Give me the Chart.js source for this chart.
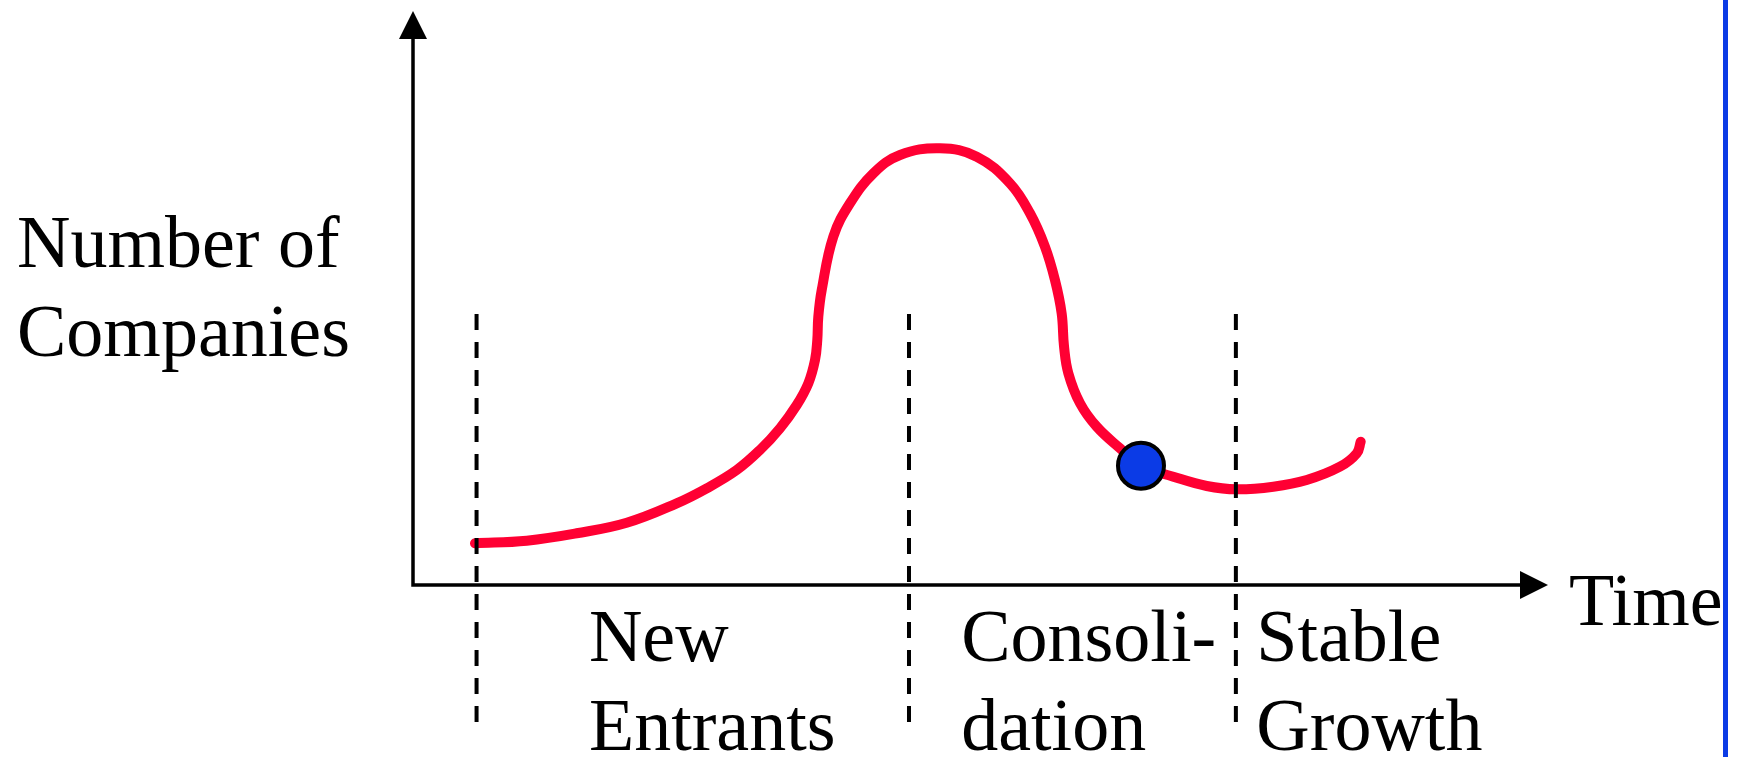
<!DOCTYPE html>
<html>
<head>
<meta charset="utf-8">
<script src="https://cdn.jsdelivr.net/npm/chart.js@4.4.1/dist/chart.umd.min.js"></script>
<style>
    html, body { margin: 0; padding: 0; background: #fff; }
    #wrap { width: 1743px; height: 757px; position: relative; }
</style>
</head>
<body>
<div id="wrap"><canvas id="myChart"></canvas></div>
<script>
// curve (time vs number of companies, arbitrary 0-100 units)
const timeValues = [5.46, 10.02, 14.42, 18.83, 23.23, 25.88, 28.52, 30.57, 32.33, 33.81, 34.83, 35.42, 35.62, 35.71, 36.01, 37.03, 38.50, 40.56, 42.91, 46.43, 49.67, 52.60, 54.36, 55.68, 56.56, 57.15, 57.36, 57.74, 58.77, 60.24, 62.29, 64.14, 66.99, 69.93, 72.57, 75.80, 78.74, 81.67, 83.15, 83.50];
const companyValues = [7.26, 7.72, 9.01, 10.85, 14.23, 16.85, 20.03, 23.52, 27.30, 31.36, 35.14, 39.20, 42.68, 46.74, 51.39, 60.68, 66.50, 71.72, 74.91, 76.08, 74.62, 69.98, 64.76, 58.94, 53.14, 47.33, 41.52, 36.88, 31.66, 27.58, 23.82, 20.78, 18.87, 17.25, 16.67, 17.13, 18.29, 20.61, 22.94, 24.97];

// "you are here" marker
const markerTime = [64.14];
const markerCompanies = [20.78];

// phase boundaries and names
const phaseBoundaries = [5.6, 43.7, 72.5];
const phaseNames = [["New", "Entrants"], ["Consoli-", "dation"], ["Stable", "Growth"]];

const yTitle = ["Number of", "Companies"];
const xTitle = "Time";

const FONT = "74px 'Liberation Serif', 'Times New Roman', serif";

const diagramPlugin = {
    id: 'diagram',
    afterDatasetsDraw(chart, args, opts) {
        const { ctx, chartArea } = chart;
        const xs = chart.scales.x, ys = chart.scales.y;
        const x0 = xs.getPixelForValue(0), y0 = ys.getPixelForValue(0);
        ctx.save();

        // axes with arrow heads
        ctx.strokeStyle = '#000';
        ctx.fillStyle = '#000';
        ctx.lineWidth = 3.5;
        ctx.beginPath();
        ctx.moveTo(x0, y0);
        ctx.lineTo(x0, chartArea.top + 26);
        ctx.moveTo(x0 - 1.75, y0);
        ctx.lineTo(chartArea.right - 26, y0);
        ctx.stroke();
        ctx.beginPath();
        ctx.moveTo(x0, chartArea.top);
        ctx.lineTo(x0 - 14, chartArea.top + 28);
        ctx.lineTo(x0 + 14, chartArea.top + 28);
        ctx.closePath();
        ctx.fill();
        ctx.beginPath();
        ctx.moveTo(chartArea.right, y0);
        ctx.lineTo(chartArea.right - 28, y0 - 14);
        ctx.lineTo(chartArea.right - 28, y0 + 14);
        ctx.closePath();
        ctx.fill();

        // dashed phase lines
        ctx.lineWidth = 4;
        ctx.setLineDash([16, 12]);
        for (const b of phaseBoundaries) {
            const px = xs.getPixelForValue(b);
            ctx.beginPath();
            ctx.moveTo(px, opts.dashTop);
            ctx.lineTo(px, opts.dashBottom);
            ctx.stroke();
        }
        ctx.setLineDash([]);

        // texts
        ctx.font = FONT;
        ctx.textBaseline = 'alphabetic';
        ctx.textAlign = 'left';
        phaseNames.forEach((lines, i) => {
            const px = xs.getPixelForValue(opts.phaseTextX[i]);
            lines.forEach((t, j) => ctx.fillText(t, px, y0 + 76 + j * 89));
        });
        yTitle.forEach((t, j) => ctx.fillText(t, 17, 267 + j * 89));
        ctx.fillText(xTitle, chartArea.right + 21, y0 + 40);

        // blue slide edge
        ctx.fillStyle = '#0b3be6';
        ctx.fillRect(1723, 0, 5, chart.height);
        ctx.restore();
    }
};

function makeGraph() {
    const ctx = document.getElementById('myChart');
    new Chart(ctx, {
        type: 'scatter',
        data: {
            datasets: [
                {
                    label: 'marker',
                    data: markerTime.map((t, i) => ({ x: t, y: markerCompanies[i] })),
                    pointRadius: 23,
                    pointBackgroundColor: '#0b3be6',
                    pointBorderColor: '#000',
                    pointBorderWidth: 4,
                    order: 0,
                },
                {
                    label: 'companies',
                    data: timeValues.map((t, i) => ({ x: t, y: companyValues[i] })),
                    showLine: true,
                    borderColor: '#ff0033',
                    borderWidth: 10,
                    borderCapStyle: 'round',
                    borderJoinStyle: 'round',
                    tension: 0.4,
                    pointRadius: 0,
                    order: 1,
                }
            ]
        },
        options: {
            responsive: true,
            maintainAspectRatio: false,
            animation: { duration: 0 },
            layout: { autoPadding: false, padding: { left: 413, right: 195, top: 11, bottom: 172 } },
            scales: {
                x: { type: 'linear', min: 0, max: 100, display: false },
                y: { type: 'linear', min: 0, max: 100, display: false },
            },
            elements: { line: { capBezierPoints: false } },
            clip: false,
            plugins: {
                legend: { display: false },
                tooltip: { enabled: false },
                diagram: {
                    dashTop: 314,
                    dashBottom: 724,
                    phaseTextX: [15.5, 48.3, 74.3],
                },
            },
        },
        plugins: [diagramPlugin],
    });
}

document.fonts.load(FONT).then(makeGraph, makeGraph);
</script>
</body>
</html>
